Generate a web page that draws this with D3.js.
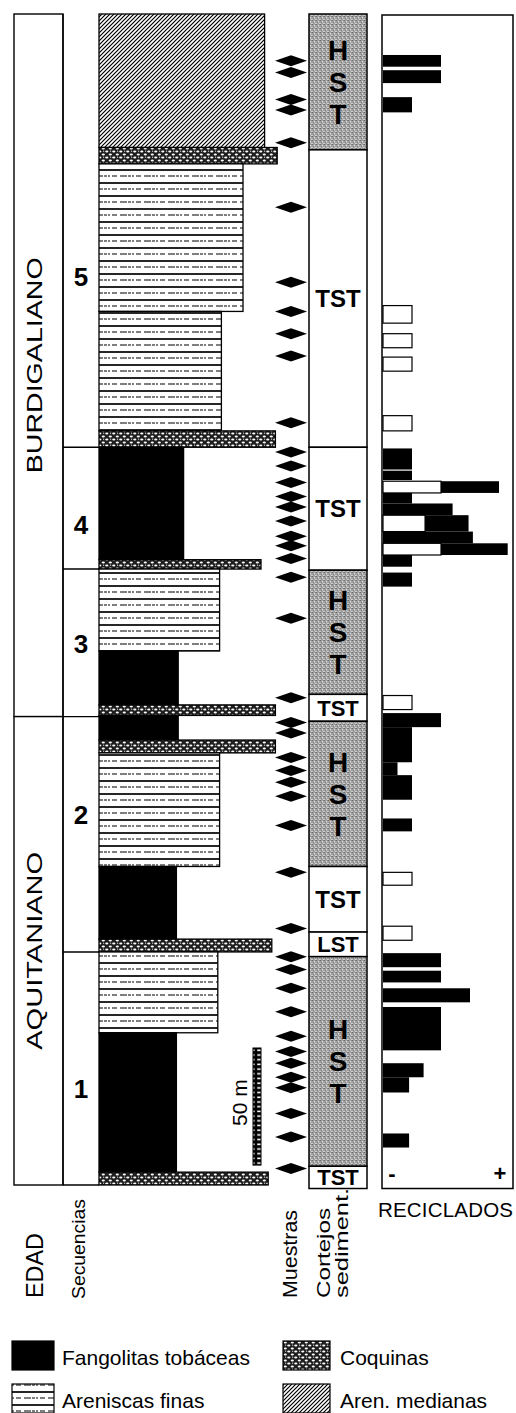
<!DOCTYPE html>
<html>
<head>
<meta charset="utf-8">
<script src="https://cdn.jsdelivr.net/npm/d3@7"></script>
<style>
  body { margin: 0; background: #fff; }
  svg { display: block; font-family: "Liberation Sans", Arial, sans-serif; }
</style>
</head>
<body>
<script>
// all depths in metres above the base of the section
var edades = [
  {name: "BURDIGALIANO", top: 500, base: 200},
  {name: "AQUITANIANO", top: 200, base: 0}
];

var secuencias = [
  {id: "5", top: 500, base: 315, label: 388},
  {id: "4", top: 315, base: 263, label: 282},
  {id: "3", top: 263, base: 200, label: 231},
  {id: "2", top: 200, base: 99.5, label: 158},
  {id: "1", top: 99.5, base: 0, label: 41}
];

// w = lithological profile index (0-10)
var capas = [
  {tipo: "medianas", top: 500, base: 443, w: 9.2},
  {tipo: "coquina", top: 443, base: 436, w: 9.9},
  {tipo: "finas", top: 436, base: 373, w: 8.0},
  {tipo: "finas", top: 373, base: 322, w: 6.8},
  {tipo: "coquina", top: 322, base: 315, w: 9.8},
  {tipo: "fango", top: 315, base: 267, w: 4.7},
  {tipo: "coquina", top: 267, base: 263, w: 9.0},
  {tipo: "finas", top: 263, base: 228, w: 6.7},
  {tipo: "fango", top: 228, base: 205, w: 4.4},
  {tipo: "coquina", top: 205, base: 200.5, w: 9.8},
  {tipo: "fango", top: 200.5, base: 190, w: 4.4},
  {tipo: "coquina", top: 190, base: 184.5, w: 9.8},
  {tipo: "finas", top: 184.5, base: 136, w: 6.7},
  {tipo: "fango", top: 136, base: 105, w: 4.3},
  {tipo: "coquina", top: 105, base: 99.5, w: 9.6},
  {tipo: "finas", top: 99.5, base: 65, w: 6.6},
  {tipo: "fango", top: 65, base: 5.5, w: 4.3},
  {tipo: "coquina", top: 5.5, base: 0, w: 9.4}
];

var muestras = [480, 475, 463.5, 459, 445, 417.5, 385.5, 373, 363.5, 354,
  325.5, 313, 307, 300, 294, 289.5, 283.5, 277, 273, 267.5, 259.5, 242,
  208, 197.5, 193, 182.5, 177, 172, 166, 153.5, 133.5, 109.5, 97.5, 92,
  84, 74, 63.5, 57, 52, 46, 41.5, 30.5, 20.5, 7];

var cortejos = [
  {name: "HST", top: 500, base: 442},
  {name: "TST", top: 442, base: 315},
  {name: "TST", top: 315, base: 262.5},
  {name: "HST", top: 262.5, base: 209.5},
  {name: "TST", top: 209.5, base: 198},
  {name: "HST", top: 198, base: 136},
  {name: "TST", top: 136, base: 108},
  {name: "LST", top: 108, base: 97.5},
  {name: "HST", top: 97.5, base: 8},
  {name: "TST", top: 8, base: -1.5}
];

// blanco = white part, negro = black part (stacked after the white one)
var reciclados = [
  {top: 482.5, base: 477.5, blanco: 0, negro: 2},
  {top: 476, base: 470.5, blanco: 0, negro: 2},
  {top: 464.5, base: 458, blanco: 0, negro: 1},
  {top: 375.5, base: 368, blanco: 1, negro: 0},
  {top: 363.5, base: 357.5, blanco: 1, negro: 0},
  {top: 353.5, base: 347.5, blanco: 1, negro: 0},
  {top: 328.5, base: 322, blanco: 1, negro: 0},
  {top: 314.5, base: 305.5, blanco: 0, negro: 1},
  {top: 305, base: 301, blanco: 0, negro: 1},
  {top: 300.5, base: 295.5, blanco: 2, negro: 2},
  {top: 295.5, base: 291, blanco: 0, negro: 1},
  {top: 291, base: 286, blanco: 0, negro: 2.4},
  {top: 286, base: 279, blanco: 1.45, negro: 1.5},
  {top: 279, base: 274, blanco: 0, negro: 3.1},
  {top: 274, base: 269, blanco: 2, negro: 2.3},
  {top: 269, base: 264, blanco: 0, negro: 1},
  {top: 261.5, base: 255.5, blanco: 0, negro: 1},
  {top: 209, base: 203, blanco: 1, negro: 0},
  {top: 201.5, base: 195.5, blanco: 0, negro: 2},
  {top: 195.5, base: 180.5, blanco: 0, negro: 1},
  {top: 180.5, base: 175, blanco: 0, negro: 0.5},
  {top: 175, base: 164.5, blanco: 0, negro: 1},
  {top: 156.5, base: 151, blanco: 0, negro: 1},
  {top: 133.5, base: 128, blanco: 1, negro: 0},
  {top: 110.5, base: 104.5, blanco: 1, negro: 0},
  {top: 99, base: 93, blanco: 0, negro: 2},
  {top: 91.5, base: 86.5, blanco: 0, negro: 2},
  {top: 84, base: 78, blanco: 0, negro: 3},
  {top: 76, base: 57.5, blanco: 0, negro: 2},
  {top: 52, base: 46, blanco: 0, negro: 1.4},
  {top: 46, base: 39.5, blanco: 0, negro: 0.9},
  {top: 22, base: 16, blanco: 0, negro: 0.9}
];

var leyenda = [
  {tipo: "fango", text: "Fangolitas tobáceas"},
  {tipo: "coquina", text: "Coquinas"},
  {tipo: "finas", text: "Areniscas finas"},
  {tipo: "medianas", text: "Aren. medianas"}
];

var W = 516, H = 1413;
var svg = d3.select("body").append("svg").attr("width", W).attr("height", H);

var y = d3.scaleLinear().domain([0, 500]).range([1185, 14]);
var xLito = d3.scaleLinear().domain([0, 10]).range([99, 279]);
var xRec = d3.scaleLinear().domain([0, 4.5]).range([383, 513.5]);

// ---- patterns
var defs = svg.append("defs");

var ph = defs.append("pattern").attr("id", "medianas")
  .attr("patternUnits", "userSpaceOnUse").attr("width", 4).attr("height", 4);
ph.append("rect").attr("width", 4).attr("height", 4).attr("fill", "#fff");
ph.append("path").attr("d", "M-1,1L1,-1M0,4L4,0M3,5L5,3")
  .attr("stroke", "#000").attr("stroke-width", 1.2);

var pf = defs.append("pattern").attr("id", "finas")
  .attr("patternUnits", "userSpaceOnUse").attr("width", 24).attr("height", 13);
pf.append("rect").attr("width", 24).attr("height", 13).attr("fill", "#fff");
pf.append("line").attr("x1", 0).attr("x2", 24).attr("y1", 1).attr("y2", 1)
  .attr("stroke", "#000").attr("stroke-width", 1.7);
pf.append("line").attr("x1", 0).attr("x2", 24).attr("y1", 7).attr("y2", 7)
  .attr("stroke", "#000").attr("stroke-width", 1.1).attr("stroke-dasharray", "7,1,3,1,2,2,5,3");

var pc = defs.append("pattern").attr("id", "coquina")
  .attr("patternUnits", "userSpaceOnUse").attr("width", 7).attr("height", 6);
pc.append("rect").attr("width", 7).attr("height", 6).attr("fill", "#1e1e1e");
pc.append("ellipse").attr("cx", 1.8).attr("cy", 1.5).attr("rx", 1.6).attr("ry", 1.1).attr("fill", "#fff");
pc.append("ellipse").attr("cx", 5.3).attr("cy", 4.5).attr("rx", 1.6).attr("ry", 1.1).attr("fill", "#fff");
pc.append("circle").attr("cx", 5.6).attr("cy", 1.2).attr("r", 0.6).attr("fill", "#ddd");

var pg = defs.append("pattern").attr("id", "gris")
  .attr("patternUnits", "userSpaceOnUse").attr("width", 4).attr("height", 4);
pg.append("rect").attr("width", 4).attr("height", 4).attr("fill", "#a2a2a2");
[[0, 0, "#6a6a6a"], [2, 1, "#dcdcdc"], [1, 2, "#7c7c7c"], [3, 3, "#d0d0d0"],
 [3, 0, "#888"], [0, 3, "#c4c4c4"], [2, 2, "#b8b8b8"]].forEach(function(p) {
  pg.append("rect").attr("x", p[0]).attr("y", p[1]).attr("width", 1).attr("height", 1).attr("fill", p[2]);
});

var ps = defs.append("pattern").attr("id", "regla")
  .attr("patternUnits", "userSpaceOnUse").attr("width", 8).attr("height", 4.7);
ps.append("rect").attr("width", 8).attr("height", 4.7).attr("fill", "#000");
ps.append("rect").attr("x", 1.2).attr("y", 1.4).attr("width", 5.4).attr("height", 1.6).attr("fill", "#fff");

function fillFor(tipo) {
  return tipo === "fango" ? "#000" : "url(#" + tipo + ")";
}

// ---- EDAD column
var gEdad = svg.append("g");
gEdad.selectAll("rect").data(edades).enter().append("rect")
  .attr("x", 14).attr("width", 49)
  .attr("y", function(d) { return y(d.top); })
  .attr("height", function(d) { return y(d.base) - y(d.top); })
  .attr("fill", "#fff").attr("stroke", "#000").attr("stroke-width", 1.4);
gEdad.selectAll("text").data(edades).enter().append("text")
  .attr("transform", function(d) {
    return "translate(42," + ((y(d.top) + y(d.base)) / 2) + ") rotate(-90)";
  })
  .attr("text-anchor", "middle")
  .attr("font-size", 22)
  .attr("textLength", function(d) { return d.name.length * 18; })
  .attr("lengthAdjust", "spacingAndGlyphs")
  .text(function(d) { return d.name; });

// ---- Secuencias column
var gSeq = svg.append("g");
gSeq.append("line").attr("x1", 63).attr("x2", 63).attr("y1", y(500)).attr("y2", y(0))
  .attr("stroke", "#000").attr("stroke-width", 1.4);
gSeq.selectAll("line.b").data(secuencias).enter().append("line")
  .attr("class", "b")
  .attr("x1", 63).attr("x2", 99)
  .attr("y1", function(d) { return y(d.base); })
  .attr("y2", function(d) { return y(d.base); })
  .attr("stroke", "#000").attr("stroke-width", 1.4);
gSeq.selectAll("text").data(secuencias).enter().append("text")
  .attr("x", 81)
  .attr("y", function(d) { return y(d.label) + 9.5; })
  .attr("text-anchor", "middle")
  .attr("font-size", 26).attr("font-weight", "bold")
  .text(function(d) { return d.id; });

// ---- Lithology
svg.append("g").selectAll("rect").data(capas).enter().append("rect")
  .attr("x", xLito(0))
  .attr("y", function(d) { return y(d.top); })
  .attr("width", function(d) { return xLito(d.w) - xLito(0); })
  .attr("height", function(d) { return y(d.base) - y(d.top); })
  .attr("fill", function(d) { return fillFor(d.tipo); })
  .attr("stroke", "#000").attr("stroke-width", 1.3);

// scale bar 50 m
svg.append("rect")
  .attr("x", 253).attr("width", 8)
  .attr("y", y(58.5)).attr("height", y(8.5) - y(58.5))
  .attr("fill", "url(#regla)").attr("stroke", "#000").attr("stroke-width", 1);
svg.append("text")
  .attr("transform", "translate(247," + ((y(58.5) + y(8.5)) / 2 - 4) + ") rotate(-90)")
  .attr("text-anchor", "middle").attr("font-size", 21)
  .text("50 m");

// ---- Muestras
svg.append("g").selectAll("path").data(muestras).enter().append("path")
  .attr("d", function(d) {
    var c = y(d);
    return "M275," + c + "L291," + (c - 5.5) + "L307," + c + "L291," + (c + 5.5) + "Z";
  })
  .attr("fill", "#000");

// ---- Cortejos sedimentarios
var gCort = svg.append("g");
gCort.selectAll("rect").data(cortejos).enter().append("rect")
  .attr("x", 309).attr("width", 58)
  .attr("y", function(d) { return y(d.top); })
  .attr("height", function(d) { return y(d.base) - y(d.top); })
  .attr("fill", function(d) { return d.name === "HST" ? "url(#gris)" : "#fff"; })
  .attr("stroke", "#000").attr("stroke-width", 1.5);

cortejos.forEach(function(d) {
  var c = (y(d.top) + y(d.base)) / 2;
  var h = y(d.base) - y(d.top);
  if (d.name === "HST") {
    ["H", "S", "T"].forEach(function(ch, i) {
      gCort.append("text")
        .attr("x", 338).attr("y", c + (i - 1) * 32 + 10)
        .attr("text-anchor", "middle")
        .attr("font-size", 28).attr("font-weight", "bold")
        .text(ch);
    });
  } else {
    var fs = h < 35 ? 22 : 24;
    gCort.append("text")
      .attr("x", 338).attr("y", c + fs * 0.36)
      .attr("text-anchor", "middle")
      .attr("font-size", fs).attr("font-weight", "bold")
      .text(d.name);
  }
});

// ---- Reciclados
var gRec = svg.append("g");
gRec.append("rect")
  .attr("x", 382).attr("width", 131)
  .attr("y", y(500) + 1).attr("height", y(-1.5) - y(500) - 1)
  .attr("fill", "#fff").attr("stroke", "#000").attr("stroke-width", 1.5);

gRec.selectAll("rect.w").data(reciclados.filter(function(d) { return d.blanco > 0; }))
  .enter().append("rect").attr("class", "w")
  .attr("x", xRec(0))
  .attr("y", function(d) { return y(d.top); })
  .attr("width", function(d) { return xRec(d.blanco) - xRec(0); })
  .attr("height", function(d) { return y(d.base) - y(d.top); })
  .attr("fill", "#fff").attr("stroke", "#000").attr("stroke-width", 1.2);

gRec.selectAll("rect.n").data(reciclados.filter(function(d) { return d.negro > 0; }))
  .enter().append("rect").attr("class", "n")
  .attr("x", function(d) { return xRec(d.blanco); })
  .attr("y", function(d) { return y(d.top); })
  .attr("width", function(d) { return xRec(d.blanco + d.negro) - xRec(d.blanco); })
  .attr("height", function(d) { return y(d.base) - y(d.top); })
  .attr("fill", "#000");

gRec.append("text").attr("x", 392).attr("y", y(5) + 8)
  .attr("text-anchor", "middle").attr("font-size", 22).attr("font-weight", "bold").text("-");
gRec.append("text").attr("x", 500).attr("y", y(5) + 8)
  .attr("text-anchor", "middle").attr("font-size", 22).attr("font-weight", "bold").text("+");

svg.append("text").attr("x", 378).attr("y", 1217)
  .attr("font-size", 20.5).attr("textLength", 135)
  .text("RECICLADOS");

// ---- column titles (rotated)
var titulos = [
  {text: "EDAD", x: 43, y: 1298, len: 65, fs: 23},
  {text: "Secuencias", x: 85, y: 1299, len: 100, fs: 19},
  {text: "Muestras", x: 297, y: 1298, len: 88, fs: 20},
  {text: "Cortejos", x: 330, y: 1298, len: 90, fs: 19},
  {text: "sediment.", x: 348, y: 1298, len: 110, fs: 19}
];
svg.append("g").selectAll("text").data(titulos).enter().append("text")
  .attr("transform", function(d) { return "translate(" + d.x + "," + d.y + ") rotate(-90)"; })
  .attr("font-size", function(d) { return d.fs; })
  .attr("textLength", function(d) { return d.len; })
  .attr("lengthAdjust", "spacingAndGlyphs")
  .text(function(d) { return d.text; });

// ---- legend
var gLeg = svg.append("g");
leyenda.forEach(function(d, i) {
  var col = i % 2, row = Math.floor(i / 2);
  var bx = col === 0 ? 12 : 283, by = row === 0 ? 1341 : 1384;
  gLeg.append("rect")
    .attr("x", bx).attr("y", by).attr("width", col === 0 ? 42 : 47).attr("height", 29)
    .attr("fill", fillFor(d.tipo)).attr("stroke", "#000").attr("stroke-width", 1.2);
  gLeg.append("text")
    .attr("x", col === 0 ? 62 : 340).attr("y", by + 24)
    .attr("font-size", 21)
    .text(d.text);
});
</script>
</body>
</html>
